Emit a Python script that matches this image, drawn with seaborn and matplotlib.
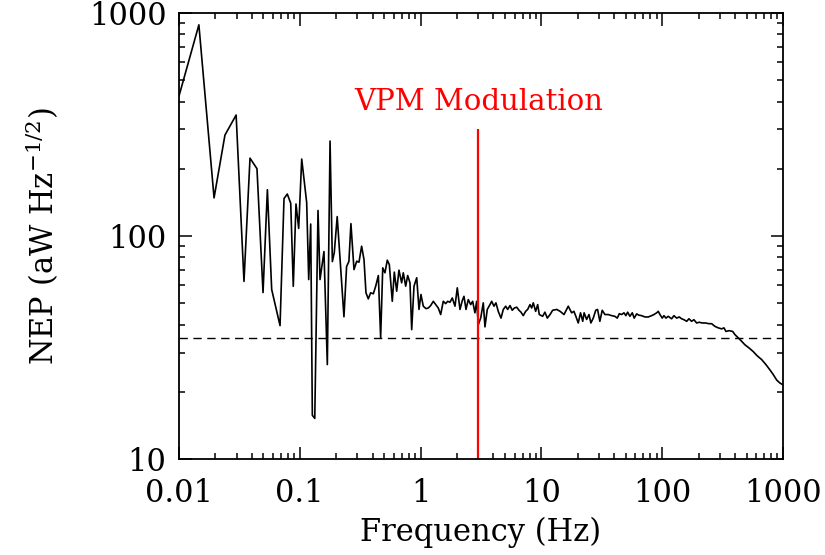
import numpy as np
import pandas as pd
import matplotlib
matplotlib.use("Agg")
import matplotlib.pyplot as plt
from matplotlib.ticker import NullFormatter
import seaborn as sns

# NEP spectrum, split in three frequency ranges
freq_low = [0.0100, 0.0146, 0.0195, 0.0240, 0.0297, 0.0345, 0.0387, 0.0442, 0.0496, 0.0539,
            0.0585, 0.0686, 0.0740, 0.0788, 0.0841, 0.0883, 0.0930, 0.0979, 0.1037, 0.1140,
            0.1185, 0.1231, 0.127, 0.133, 0.1415, 0.147, 0.1585, 0.169, 0.178, 0.186,
            0.193, 0.204, 0.218, 0.232, 0.244, 0.255, 0.265, 0.281, 0.296, 0.309,
            0.325, 0.340, 0.353, 0.369, 0.386, 0.406, 0.425, 0.447, 0.467, 0.486,
            0.507, 0.530, 0.551, 0.583, 0.606, 0.634, 0.662, 0.697, 0.719, 0.753,
            0.782, 0.817, 0.844, 0.882, 0.929, 0.970]
nep_low = [424, 883, 148, 283, 348, 62.5, 223, 200, 55.7, 161,
           57.5, 39.6, 147, 154, 140, 59.4, 139, 108, 221, 141,
           63.7, 113, 15.7, 15.2, 130, 63.7, 85.1, 26.5, 266, 76.7,
           84.3, 122, 72.1, 43.4, 72.9, 76.8, 113.5, 70.6, 77.0, 76.2,
           89.9, 78.3, 55.6, 52.2, 55.6, 55.0, 59.5, 66.4, 34.9, 71.9,
           68.3, 77.8, 74.4, 50.9, 68.8, 56.5, 70.2, 61.6, 68.3, 59.5,
           66.4, 61.6, 38.0, 59.5, 64.9, 46.8]

freq_mid = [1.007, 1.053, 1.108, 1.158, 1.212, 1.274, 1.334, 1.401, 1.467, 1.541,
            1.614, 1.676, 1.751, 1.830, 1.927, 2.013, 2.120, 2.215, 2.287, 2.377,
            2.483, 2.599, 2.698, 2.818, 2.913, 3.004, 3.145, 3.304, 3.412, 3.565,
            3.754, 3.877, 4.051, 4.207, 4.396, 4.632, 4.839, 5.066, 5.26, 5.50,
            5.74, 5.97, 6.25, 6.53, 6.78, 7.08, 7.41, 7.70, 8.05, 8.31,
            8.57, 8.97, 9.32, 9.61]
nep_mid = [54.6, 48.4, 47.2, 47.5, 48.7, 50.9, 49.2, 47.5, 44.4, 50.9,
           49.7, 50.9, 50.4, 52.7, 48.4, 58.5, 46.8, 51.3, 53.6, 46.8,
           51.8, 49.2, 50.9, 45.2, 50.9, 40.0, 42.8, 50.1, 39.1, 46.8,
           49.2, 50.9, 48.4, 50.1, 45.9, 42.8, 46.8, 48.4, 46.8, 48.7,
           46.4, 47.5, 47.9, 46.4, 45.5, 43.9, 45.9, 46.8, 49.2, 47.5,
           50.1, 45.9, 49.2, 44.4]

freq_high = [10.25, 10.7, 11.2, 11.8, 12.4, 13.4, 14.3, 15.4, 16.7, 17.8,
             18.6, 19.3, 20.2, 21.1, 22.0, 22.6, 23.7, 24.8, 25.7, 26.9,
             28.2, 29.2, 30.5, 31.9, 33.6, 35.8, 38.2, 40.6, 42.5, 44.2,
             46.2, 48.3, 50.1, 51.8, 54.1, 56.6, 58.7, 61.5, 64.3, 67.6,
             72.1, 76.7, 81.8, 85.5, 90.1, 92.9, 95.9, 100.2, 103.5, 107.5,
             112.3, 119.8, 125.2, 131.8, 138.6, 145.0, 151.6, 159.6, 166.7, 175.4,
             183.3, 193.0, 202.8, 214.8, 229.1, 244.1, 257.0, 273.5, 291.4, 310.9,
             324.9, 337.4, 359.4, 383.4, 400.6, 426.6, 455.0, 484.6, 526.0, 567.5,
             612.4, 666.4, 722.8, 779.8, 831.3, 887.2, 944.0, 1000.0]
nep_high = [43.6, 45.5, 42.8, 44.4, 46.4, 46.8, 45.9, 44.4, 48.4, 45.2,
            45.9, 43.6, 40.7, 45.2, 41.4, 45.2, 42.2, 44.4, 40.7, 42.8,
            46.4, 46.8, 41.4, 46.4, 44.4, 44.4, 43.9, 43.6, 42.8, 44.8,
            44.4, 45.2, 43.9, 45.5, 43.6, 45.2, 42.8, 44.7, 44.1, 43.9,
            43.3, 43.3, 43.9, 44.4, 45.2, 45.9, 44.4, 42.8, 43.9, 42.8,
            43.6, 42.5, 43.9, 42.8, 43.3, 42.5, 42.1, 41.4, 42.5, 41.4,
            42.1, 40.7, 41.0, 40.7, 40.7, 40.4, 40.4, 39.3, 38.7, 38.3,
            38.7, 37.3, 37.6, 37.3, 36.1, 34.9, 33.7, 32.5, 31.4, 30.3,
            29.0, 27.9, 26.5, 25.1, 23.9, 22.6, 21.9, 21.5]

white_level = 35.0          # dashed reference level
f_mod = 3.0                 # VPM modulation frequency (Hz)
mod_line_top = 300.0
mod_label = "VPM Modulation"
mod_label_y = 400.0

x_ticks = [0.01, 0.1, 1, 10, 100, 1000]
x_tick_labels = ["0.01", "0.1", "1", "10", "100", "1000"]
y_ticks = [10, 100, 1000]
y_tick_labels = ["10", "100", "1000"]


def main():
    df = pd.DataFrame({
        "freq": np.concatenate([freq_low, freq_mid, freq_high]),
        "nep": np.concatenate([nep_low, nep_mid, nep_high]),
    })

    sns.set_style("ticks")
    plt.rcParams["font.family"] = ["DejaVu Serif"]
    plt.rcParams["mathtext.fontset"] = "dejavuserif"
    plt.rcParams["text.color"] = "black"
    plt.rcParams["axes.labelcolor"] = "black"
    plt.rcParams["xtick.color"] = "black"
    plt.rcParams["ytick.color"] = "black"
    plt.rcParams["axes.edgecolor"] = "black"

    fig = plt.figure(figsize=(8.25, 5.55), dpi=100)
    ax = fig.add_axes([0.217, 0.173, 0.732, 0.804])

    sns.lineplot(data=df, x="freq", y="nep", color="black", lw=1.2,
                 estimator=None, sort=False, ax=ax)
    ax.set_xscale("log")
    ax.set_yscale("log")
    ax.set_xlim(0.01, 1000)
    ax.set_ylim(10, 1000)

    ax.axhline(white_level, color="black", lw=1.0, ls=(0, (6, 4)))
    ax.vlines(f_mod, 10, mod_line_top, color="red", lw=1.6)
    ax.text(f_mod, mod_label_y, mod_label, color="red", ha="center",
            va="center", fontsize=21)

    ax.set_xticks(x_ticks, labels=x_tick_labels)
    ax.set_yticks(y_ticks, labels=y_tick_labels)
    ax.xaxis.set_minor_formatter(NullFormatter())
    ax.yaxis.set_minor_formatter(NullFormatter())
    ax.tick_params(which="both", direction="in", top=True, right=True,
                   labelsize=22, width=1.1, colors="black")
    ax.tick_params(which="major", length=9)
    ax.tick_params(which="minor", length=4.5)
    ax.tick_params(axis="x", which="major", pad=14)
    ax.tick_params(axis="y", which="major", pad=9)
    for s in ax.spines.values():
        s.set_linewidth(1.3)
        s.set_color("black")

    ax.set_xlabel("Frequency (Hz)", fontsize=22)
    ax.set_ylabel(r"NEP (aW Hz$^{-1/2}$)", fontsize=22)
    ax.xaxis.set_label_coords(0.5, -0.13)
    ax.yaxis.set_label_coords(-0.195, 0.5)

    fig.savefig("out.png", dpi=100)
    plt.close(fig)


if __name__ == "__main__":
    main()
